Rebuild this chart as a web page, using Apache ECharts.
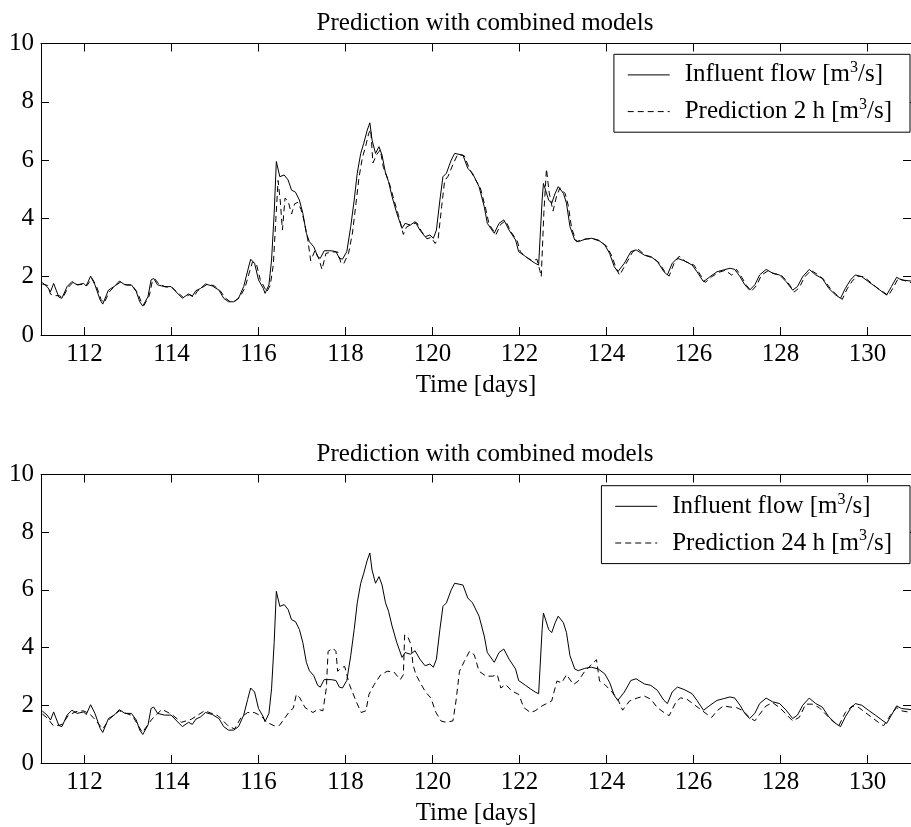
<!DOCTYPE html>
<html>
<head>
<meta charset="utf-8">
<script src="https://cdn.jsdelivr.net/npm/echarts@6/dist/echarts.min.js"></script>
<style>
html,body{margin:0;padding:0;background:#fff;}
#chart{width:911px;height:827px;}
</style>
</head>
<body>
<div id="chart"></div>
<script>
// ---- data ----
const chartTitle = 'Prediction with combined models';
const xAxisName = 'Time [days]';
const seriesNames = ['Influent flow [m3/s]', 'Prediction 2 h [m3/s]', 'Prediction 24 h [m3/s]'];

const flowDays = [111.03,111.14,111.22,111.29,111.41,111.48,111.60,111.71,111.83,111.98,112.04,112.14,112.24,112.36,112.42,112.55,112.70,112.80,112.93,113.08,113.19,113.27,113.34,113.46,113.53,113.59,113.68,113.84,113.99,114.10,114.25,114.39,114.48,114.56,114.67,114.78,114.94,115.09,115.20,115.31,115.43,115.54,115.66,115.75,115.82,115.91,116.00,116.11,116.15,116.24,116.30,116.36,116.41,116.49,116.59,116.68,116.76,116.85,116.94,117.02,117.10,117.17,117.27,117.36,117.42,117.51,117.67,117.78,117.86,117.93,118.03,118.12,118.20,118.27,118.35,118.42,118.50,118.56,118.61,118.69,118.77,118.84,118.92,118.99,119.07,119.18,119.30,119.37,119.49,119.60,119.71,119.83,119.94,120.02,120.09,120.17,120.24,120.32,120.43,120.51,120.70,120.81,120.92,121.07,121.19,121.26,121.42,121.53,121.64,121.76,121.91,121.98,122.14,122.25,122.36,122.44,122.52,122.55,122.59,122.67,122.74,122.82,122.89,123.01,123.08,123.16,123.27,123.35,123.50,123.65,123.81,123.96,124.07,124.18,124.26,124.41,124.56,124.68,124.87,125.02,125.17,125.32,125.40,125.51,125.63,125.78,125.97,126.08,126.23,126.38,126.54,126.69,126.84,126.95,127.07,127.18,127.29,127.41,127.52,127.67,127.82,127.98,128.13,128.28,128.39,128.51,128.66,128.81,128.96,129.11,129.27,129.38,129.49,129.61,129.72,129.87,130.02,130.18,130.33,130.44,130.55,130.67,130.78,131.00];
const flowValues = [1.80,1.66,1.49,1.77,1.30,1.26,1.66,1.83,1.72,1.77,1.68,2.02,1.72,1.20,1.06,1.54,1.68,1.85,1.72,1.72,1.49,1.14,0.99,1.32,1.89,1.94,1.72,1.66,1.66,1.49,1.26,1.41,1.34,1.52,1.60,1.75,1.68,1.54,1.26,1.14,1.14,1.26,1.66,2.20,2.60,2.46,1.89,1.60,1.43,1.72,2.57,4.17,5.95,5.43,5.49,5.32,4.97,4.90,4.63,4.17,3.49,3.20,3.03,2.69,2.63,2.89,2.89,2.86,2.63,2.60,2.86,3.72,4.63,5.55,6.23,6.58,7.03,7.28,6.69,6.23,6.46,6.17,5.55,5.26,4.75,4.17,3.66,3.83,3.77,3.89,3.60,3.37,3.43,3.32,3.60,4.63,5.43,5.55,6.00,6.23,6.17,5.72,5.55,5.09,4.40,3.83,3.49,3.83,3.95,3.60,3.26,2.86,2.69,2.57,2.46,2.40,4.63,5.20,5.15,4.63,4.52,4.86,5.09,4.86,4.52,3.72,3.26,3.20,3.28,3.32,3.26,3.09,2.80,2.34,2.17,2.46,2.86,2.92,2.74,2.69,2.52,2.17,2.06,2.46,2.63,2.55,2.40,2.17,1.83,2.00,2.17,2.23,2.29,2.25,2.00,1.72,1.54,1.72,2.06,2.25,2.12,2.06,1.83,1.54,1.66,2.00,2.25,2.06,1.94,1.60,1.37,1.26,1.60,1.89,2.06,2.00,1.83,1.66,1.49,1.37,1.66,1.98,1.89,1.85];

const pred2Days = [111.03,111.15,111.22,111.30,111.42,111.50,111.62,111.73,111.85,112.00,112.06,112.17,112.27,112.38,112.45,112.58,112.72,112.83,112.96,113.10,113.22,113.30,113.37,113.49,113.56,113.62,113.71,113.86,114.01,114.13,114.28,114.41,114.51,114.59,114.70,114.81,114.97,115.12,115.23,115.34,115.46,115.57,115.69,115.78,115.86,115.95,116.04,116.14,116.19,116.27,116.34,116.40,116.45,116.50,116.55,116.61,116.68,116.76,116.83,116.90,116.98,117.05,117.13,117.20,117.30,117.39,117.46,117.55,117.70,117.82,117.90,117.96,118.07,118.16,118.24,118.31,118.39,118.46,118.53,118.58,118.63,118.72,118.80,118.87,118.95,119.03,119.11,119.22,119.33,119.40,119.52,119.64,119.75,119.87,119.97,120.06,120.13,120.21,120.28,120.36,120.47,120.58,120.73,120.85,120.94,121.10,121.22,121.30,121.46,121.57,121.68,121.80,121.95,122.02,122.18,122.29,122.40,122.47,122.50,122.56,122.62,122.68,122.77,122.85,122.93,123.05,123.12,123.20,123.31,123.39,123.54,123.69,123.85,124.00,124.11,124.22,124.30,124.45,124.60,124.72,124.91,125.06,125.21,125.36,125.44,125.55,125.67,125.82,126.01,126.12,126.27,126.42,126.58,126.73,126.88,126.99,127.11,127.22,127.33,127.45,127.56,127.71,127.86,128.02,128.17,128.32,128.43,128.55,128.70,128.85,129.00,129.15,129.31,129.42,129.53,129.65,129.76,129.91,130.06,130.22,130.37,130.48,130.59,130.71,130.82,131.00];
const pred2Values = [1.75,1.70,1.40,1.35,1.35,1.28,1.62,1.80,1.72,1.75,1.70,1.95,1.70,1.22,1.10,1.50,1.70,1.82,1.72,1.70,1.45,1.15,1.02,1.35,1.85,1.92,1.75,1.65,1.63,1.47,1.28,1.38,1.30,1.50,1.62,1.73,1.70,1.52,1.28,1.15,1.16,1.30,1.62,2.10,2.50,2.45,1.90,1.62,1.48,1.70,2.40,4.00,5.30,4.60,3.60,4.70,4.60,4.15,4.50,4.55,4.30,3.90,3.30,2.55,2.90,2.60,2.25,2.80,2.85,2.85,2.45,2.45,2.80,3.50,4.50,5.40,6.10,6.45,6.90,7.05,5.90,6.20,6.35,5.75,5.45,5.10,4.65,4.10,3.45,3.70,3.80,3.85,3.55,3.30,3.35,3.14,3.30,4.40,5.30,5.45,5.85,6.20,6.15,5.70,5.45,5.05,4.35,3.80,3.45,3.80,3.92,3.55,3.22,2.85,2.65,2.55,2.60,2.20,2.00,4.20,5.70,4.90,4.25,4.75,5.05,4.85,4.45,3.65,3.20,3.25,3.30,3.30,3.22,3.05,2.75,2.30,2.05,2.45,2.85,2.95,2.72,2.65,2.48,2.12,2.02,2.45,2.70,2.52,2.40,2.15,1.80,2.00,2.15,2.22,2.05,2.25,1.98,1.70,1.50,1.70,2.05,2.20,2.10,2.05,1.80,1.48,1.62,1.98,2.22,2.08,1.90,1.58,1.35,1.22,1.58,1.85,2.02,2.00,1.82,1.62,1.47,1.35,1.62,1.95,1.88,1.80];

const pred24Days = [111.03,111.15,111.28,111.40,111.50,111.62,111.80,111.97,112.10,112.20,112.42,112.57,112.80,113.10,113.33,113.55,113.78,114.00,114.23,114.46,114.76,115.07,115.30,115.45,115.60,115.75,115.90,116.05,116.20,116.36,116.48,116.60,116.72,116.80,116.87,116.95,117.07,117.25,117.37,117.48,117.56,117.60,117.71,117.78,117.82,117.90,117.98,118.09,118.24,118.36,118.47,118.54,118.66,118.81,118.96,119.11,119.26,119.33,119.36,119.43,119.51,119.55,119.62,119.74,119.85,119.96,120.08,120.20,120.32,120.47,120.54,120.62,120.73,120.85,120.96,121.07,121.23,121.38,121.49,121.57,121.68,121.83,121.98,122.10,122.25,122.36,122.52,122.74,122.86,122.97,123.08,123.24,123.35,123.50,123.65,123.77,123.84,123.96,124.11,124.26,124.37,124.53,124.72,124.87,125.02,125.17,125.32,125.44,125.59,125.70,125.85,126.00,126.16,126.31,126.42,126.54,126.69,126.84,126.99,127.14,127.29,127.41,127.52,127.67,127.82,127.98,128.13,128.28,128.43,128.58,128.73,128.89,129.04,129.19,129.34,129.49,129.65,129.80,129.95,130.10,130.25,130.37,130.52,130.67,130.78,131.00];
const pred24Values = [1.70,1.55,1.30,1.30,1.35,1.64,1.78,1.81,1.72,1.58,1.18,1.52,1.81,1.64,1.06,1.52,1.86,1.69,1.41,1.52,1.81,1.64,1.29,1.18,1.58,1.75,1.75,1.64,1.41,1.29,1.30,1.55,1.80,1.90,2.38,2.26,1.92,1.75,1.86,1.81,2.60,3.87,3.98,3.87,3.18,3.29,3.35,2.72,2.15,1.75,1.81,2.38,2.72,3.06,3.18,3.16,2.89,3.06,4.44,4.38,4.09,3.41,3.06,2.72,2.44,2.26,1.75,1.45,1.41,1.46,2.15,3.18,3.52,3.87,3.75,3.18,3.01,3.01,3.06,2.60,2.72,2.49,2.38,1.92,1.75,1.81,1.98,2.15,2.84,2.78,3.06,2.72,2.84,3.18,3.41,3.58,2.84,2.72,2.49,2.21,1.83,2.15,2.26,2.32,2.21,1.92,1.75,1.64,2.09,2.26,2.21,2.04,1.86,1.69,1.58,1.81,1.98,1.94,1.92,1.81,1.58,1.46,1.69,1.98,2.09,1.92,1.69,1.46,1.58,2.04,2.04,1.92,1.69,1.46,1.29,1.75,1.98,1.92,1.75,1.58,1.41,1.29,1.64,1.92,1.81,1.75];

// ---- build ----
const FONT = 'Liberation Serif';
const FS = 25;
function pairs(xs, ys) { return xs.map((x, i) => [x, ys[i]]); }

const gridTops = [43.5, 474.5];
const gridH = 291.5;

function legendLabel(name) {
  const parts = name.split('m3');
  return '{gap|}' + parts[0] + 'm{sup|3}' + parts[1];
}

const grids = gridTops.map(t => ({ left: 41, top: t, width: 879, height: gridH, show: false }));

const xAxes = [];
const yAxes = [];
[0, 1].forEach(g => {
  xAxes.push({
    type: 'value', gridIndex: g, min: 111, max: 131, splitNumber: 10, position: 'bottom',
    axisLine: { show: true, onZero: false, lineStyle: { color: '#000', width: 1 } },
    axisTick: { show: true, inside: true, length: 8, lineStyle: { color: '#000' } },
    axisLabel: { show: true, showMinLabel: false, showMaxLabel: false, color: '#000', fontFamily: FONT, fontSize: FS, margin: 7 },
    splitLine: { show: false },
    name: xAxisName, nameLocation: 'middle', nameGap: 38,
    nameTextStyle: { color: '#000', fontFamily: FONT, fontSize: FS }
  });
  xAxes.push({
    type: 'value', gridIndex: g, min: 111, max: 131, splitNumber: 10, position: 'top',
    axisLine: { show: true, onZero: false, lineStyle: { color: '#000', width: 1 } },
    axisTick: { show: true, inside: true, length: 8, lineStyle: { color: '#000' } },
    axisLabel: { show: false },
    splitLine: { show: false }
  });
  yAxes.push({
    type: 'value', gridIndex: g, min: 0, max: 10, interval: 2, position: 'left',
    axisLine: { show: true, onZero: false, lineStyle: { color: '#000', width: 1 } },
    axisTick: { show: true, inside: true, length: 8, lineStyle: { color: '#000' } },
    axisLabel: { show: true, color: '#000', fontFamily: FONT, fontSize: FS, margin: 7 },
    splitLine: { show: false }
  });
  yAxes.push({
    type: 'value', gridIndex: g, min: 0, max: 10, interval: 2, position: 'right',
    axisLine: { show: true, onZero: false, lineStyle: { color: '#000', width: 1 } },
    axisTick: { show: true, inside: true, length: 8, lineStyle: { color: '#000' } },
    axisLabel: { show: false },
    splitLine: { show: false }
  });
});

function lineSeries(name, g, data, dashed) {
  return {
    name: name, type: 'line', xAxisIndex: g * 2, yAxisIndex: g * 2,
    data: data, symbol: 'none', showSymbol: false, smooth: false, animation: false,
    lineStyle: { color: '#000', width: 1, type: dashed ? [6, 4] : 'solid' },
    itemStyle: { color: '#000' }
  };
}

const series = [
  lineSeries(seriesNames[0], 0, pairs(flowDays, flowValues), false),
  lineSeries(seriesNames[1], 0, pairs(pred2Days, pred2Values), true),
  lineSeries(seriesNames[0], 1, pairs(flowDays, flowValues), false),
  lineSeries(seriesNames[2], 1, pairs(pred24Days, pred24Values), true)
];

const legendTextStyle = {
  color: '#000', fontFamily: FONT, fontSize: FS, lineHeight: 30,
  rich: {
    gap: { width: 10 },
    sup: { fontSize: 16, fontFamily: FONT, color: '#000', verticalAlign: 'top', lineHeight: 28 }
  }
};

function makeLegend(names, top) {
  return {
    orient: 'vertical', right: 1, top: top,
    data: names,
    itemWidth: 42, itemHeight: 26, itemGap: 6.7,
    padding: [5.6, 18, 5.6, 13.3],
    borderColor: '#000', borderWidth: 1, backgroundColor: '#fff',
    itemStyle: { opacity: 0, borderWidth: 0 },
    lineStyle: { width: 1, color: '#000' },
    formatter: legendLabel,
    textStyle: legendTextStyle,
    selectedMode: false
  };
}

const option = {
  backgroundColor: '#fff',
  animation: false,
  title: gridTops.map(t => ({
    text: chartTitle, left: 480, top: t - 38, textAlign: 'center',
    textStyle: { color: '#000', fontFamily: FONT, fontSize: FS, fontWeight: 'normal' }
  })),
  legend: [
    makeLegend([seriesNames[0], seriesNames[1]], 54.3),
    makeLegend([seriesNames[0], seriesNames[2]], 485.7)
  ],
  grid: grids,
  xAxis: xAxes,
  yAxis: yAxes,
  series: series
};

const chart = echarts.init(document.getElementById('chart'), null, { renderer: 'canvas' });
chart.setOption(option);
</script>
</body>
</html>
